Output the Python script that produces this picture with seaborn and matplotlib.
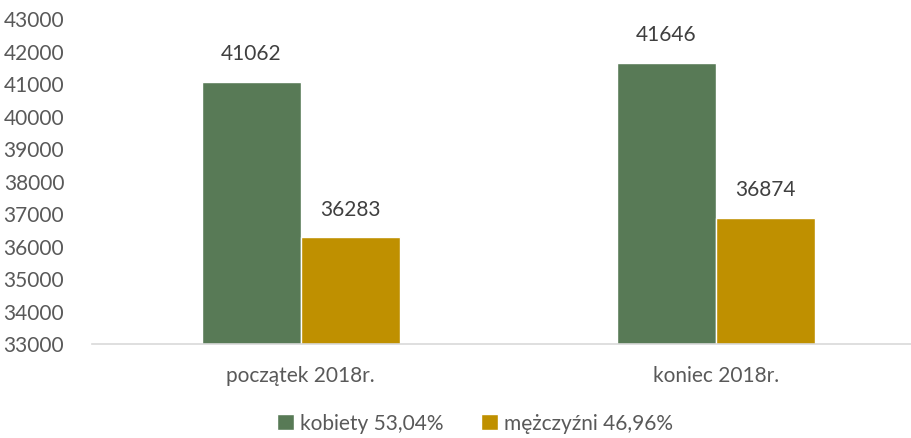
import matplotlib
matplotlib.use("Agg")
import matplotlib.pyplot as plt
import pandas as pd
import seaborn as sns

categories = ["początek 2018r.", "koniec 2018r."]
groups = ["kobiety 53,04%", "mężczyźni 46,96%"]
kobiety = [41062, 41646]
mezczyzni = [36283, 36874]
colors = ["#587A56", "#BF9000"]

df = pd.DataFrame({
    "okres": categories * 2,
    "grupa": [groups[0]] * 2 + [groups[1]] * 2,
    "liczba": kobiety + mezczyzni,
})

sns.set_theme(style="white")
plt.rcParams["font.family"] = ["Lato", "DejaVu Sans"]
text_color = "#595959"

fig = plt.figure(figsize=(9.11, 4.38), dpi=100)
ax = fig.add_axes([0.101, 0.2146, 0.899, 0.742])

sns.barplot(data=df, x="okres", y="liczba", hue="grupa", palette=colors,
            width=0.477, ax=ax, saturation=1)

ax.set_ylim(33000, 43000)
ax.set_yticks(range(33000, 43001, 1000))
ax.set_xlim(-0.503, 1.47)
ax.set_xlabel("")
ax.set_ylabel("")
ax.tick_params(axis="y", colors=text_color, labelsize=15, pad=20, length=0)
ax.tick_params(axis="x", colors=text_color, labelsize=15, pad=16, length=0)

for s in ["top", "right", "left"]:
    ax.spines[s].set_visible(False)
ax.spines["bottom"].set_color("#D9D9D9")
ax.spines["bottom"].set_linewidth(1.2)

for container in ax.containers:
    for bar in container:
        h = bar.get_height()
        ax.annotate(f"{int(h)}", (bar.get_x() + bar.get_width() / 2, h),
                    xytext=(0, 20), textcoords="offset points",
                    ha="center", va="center", fontsize=15, color="#404040")

handles, labels = ax.get_legend_handles_labels()
ax.legend(handles, labels, loc="center", bbox_to_anchor=(0.468, -0.245),
          ncol=2, frameon=False, fontsize=15, labelcolor=text_color,
          handlelength=0.8, handleheight=0.8, handletextpad=0.3, columnspacing=1.8)

fig.savefig("out.png", dpi=100)
